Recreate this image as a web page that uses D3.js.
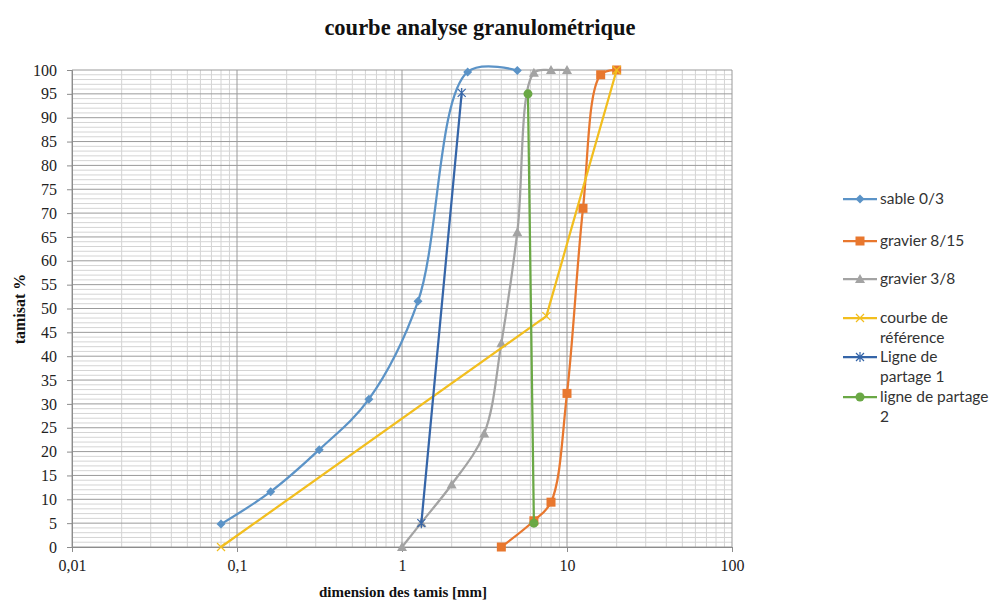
<!DOCTYPE html>
<html>
<head>
<meta charset="utf-8">
<script src="https://cdn.jsdelivr.net/npm/d3@7"></script>
<style>
  html, body { margin: 0; padding: 0; background: #fff; }
  svg { display: block; }
</style>
</head>
<body>
<svg id="chart" width="990" height="601"></svg>
<script>
// Sieve sizes (mm) and passing percentages for each curve
const sableX = [0.08, 0.16, 0.315, 0.63, 1.25, 2.5, 5];
const sableY = [4.8, 11.6, 20.4, 31, 51.5, 99.6, 99.9];

const gravier815X = [4, 6.3, 8, 10, 12.5, 16, 20];
const gravier815Y = [0, 5.5, 9.4, 32.2, 71, 99, 100];

const gravier38X = [1, 1.31, 2, 3.15, 4, 5, 6.3, 8, 10];
const gravier38Y = [0, 5.1, 13.1, 23.8, 42.7, 66, 99.4, 100, 100];

const referenceX = [0.08, 7.5, 20];
const referenceY = [0, 48.4, 100];

const partage1X = [1.31, 2.3];
const partage1Y = [5, 95.2];

const partage2X = [5.8, 6.3];
const partage2Y = [95, 5];

const xTickValues = [0.01, 0.1, 1, 10, 100];
const xTickLabels = ["0,01", "0,1", "1", "10", "100"];
const yTickValues = d3.range(0, 101, 5);

const seriesNames = ["sable 0/3", "gravier 8/15", "gravier 3/8", "courbe de référence", "Ligne de partage 1", "ligne de partage 2"];

const series = [
  { name: seriesNames[0], xs: sableX, ys: sableY, color: "#5b93c7", marker: "diamond", smooth: true },
  { name: seriesNames[1], xs: gravier815X, ys: gravier815Y, color: "#e8772e", marker: "square", smooth: true },
  { name: seriesNames[2], xs: gravier38X, ys: gravier38Y, color: "#a3a3a3", marker: "triangle", smooth: true },
  { name: seriesNames[3], xs: referenceX, ys: referenceY, color: "#f2be1e", marker: "cross", smooth: false },
  { name: seriesNames[4], xs: partage1X, ys: partage1Y, color: "#3565a8", marker: "star", smooth: false },
  { name: seriesNames[5], xs: partage2X, ys: partage2Y, color: "#6aa845", marker: "circle", smooth: false }
];

const svg = d3.select("#chart");
const plotLeft = 72, plotRight = 732, plotTop = 70, plotBottom = 547;

const x = d3.scaleLog().domain([0.01, 100]).range([plotLeft, plotRight]);
const y = d3.scaleLinear().domain([0, 100]).range([plotBottom, plotTop]);

// Grid: minor lines first, then major lines
const grid = svg.append("g");
const minorX = [];
for (let e = -2; e < 2; e++) for (let k = 2; k <= 9; k++) minorX.push(k * Math.pow(10, e));
grid.selectAll(".vminor").data(minorX).join("line")
  .attr("x1", d => x(d)).attr("x2", d => x(d))
  .attr("y1", plotTop).attr("y2", plotBottom)
  .attr("stroke", "#d4d4d4").attr("stroke-width", 1);
const minorY = d3.range(0, 101, 1).filter(d => d % 5 !== 0);
grid.selectAll(".hminor").data(minorY).join("line")
  .attr("x1", plotLeft).attr("x2", plotRight)
  .attr("y1", d => y(d)).attr("y2", d => y(d))
  .attr("stroke", "#d4d4d4").attr("stroke-width", 1);
grid.selectAll(".hmajor").data(yTickValues).join("line")
  .attr("x1", plotLeft).attr("x2", plotRight)
  .attr("y1", d => y(d)).attr("y2", d => y(d))
  .attr("stroke", "#9a9a9a").attr("stroke-width", 1);
grid.selectAll(".vmajor").data(xTickValues).join("line")
  .attr("x1", d => x(d)).attr("x2", d => x(d))
  .attr("y1", plotTop).attr("y2", plotBottom)
  .attr("stroke", "#9a9a9a").attr("stroke-width", 1);

// Axes
const xAxis = d3.axisBottom(x).tickValues(xTickValues)
  .tickFormat((d, i) => xTickLabels[i]).tickSize(5).tickPadding(8);
const yAxis = d3.axisLeft(y).tickValues(yTickValues).tickSize(5).tickPadding(10);

const gx = svg.append("g").attr("transform", `translate(0,${plotBottom})`).call(xAxis);
const gy = svg.append("g").attr("transform", `translate(${plotLeft},0)`).call(yAxis);
[gx, gy].forEach(g => {
  g.select(".domain").attr("stroke", "#8c8c8c");
  g.selectAll(".tick line").attr("stroke", "#8c8c8c");
  g.selectAll(".tick text")
    .attr("font-family", "'Liberation Serif', 'Times New Roman', serif")
    .attr("font-size", 16).attr("fill", "#222");
});

// Marker shapes
function drawMarker(g, type, color) {
  if (type === "diamond") {
    g.append("path").attr("d", "M0,-4.5L4.5,0L0,4.5L-4.5,0Z").attr("fill", color);
  } else if (type === "square") {
    g.append("rect").attr("x", -4.5).attr("y", -4.5).attr("width", 9).attr("height", 9).attr("fill", color);
  } else if (type === "triangle") {
    g.append("path").attr("d", "M0,-5L5,4L-5,4Z").attr("fill", color);
  } else if (type === "circle") {
    g.append("circle").attr("r", 4.5).attr("fill", color);
  } else if (type === "cross") {
    g.append("path").attr("d", "M-4,-4L4,4M-4,4L4,-4").attr("stroke", color).attr("stroke-width", 1.2).attr("fill", "none");
  } else if (type === "star") {
    g.append("path").attr("d", "M-4,-4L4,4M-4,4L4,-4M0,-5L0,5").attr("stroke", color).attr("stroke-width", 1.2).attr("fill", "none");
  }
}

const plot = svg.append("g");
series.forEach(s => {
  const pts = s.xs.map((v, i) => [v, s.ys[i]]);
  const line = d3.line().x(d => x(d[0])).y(d => y(d[1]))
    .curve(s.smooth ? d3.curveCatmullRom.alpha(0.5) : d3.curveLinear);
  const g = plot.append("g");
  g.append("path").datum(pts).attr("d", line)
    .attr("fill", "none").attr("stroke", s.color).attr("stroke-width", 2.25)
    .attr("stroke-linejoin", "round");
  pts.forEach(p => {
    const m = g.append("g").attr("transform", `translate(${x(p[0])},${y(p[1])})`);
    drawMarker(m, s.marker, s.color);
  });
});

// Title and axis titles
svg.append("text").attr("x", 480).attr("y", 35).attr("text-anchor", "middle")
  .attr("font-family", "'Liberation Serif', 'Times New Roman', serif")
  .attr("font-weight", "bold").attr("font-size", 22.5).attr("fill", "#111")
  .text("courbe analyse granulométrique");

svg.append("text").attr("x", 403).attr("y", 597).attr("text-anchor", "middle")
  .attr("font-family", "'Liberation Serif', 'Times New Roman', serif")
  .attr("font-weight", "bold").attr("font-size", 15).attr("fill", "#111")
  .text("dimension des tamis [mm]");

svg.append("text").attr("transform", "translate(25,309) rotate(-90)").attr("text-anchor", "middle")
  .attr("font-family", "'Liberation Serif', 'Times New Roman', serif")
  .attr("font-weight", "bold").attr("font-size", 16).attr("fill", "#111")
  .text("tamisat %");

// Legend
const legendRows = [
  { lines: ["sable 0/3"], y: 199 },
  { lines: ["gravier 8/15"], y: 241 },
  { lines: ["gravier 3/8"], y: 279 },
  { lines: ["courbe de", "référence"], y: 318 },
  { lines: ["Ligne de", "partage 1"], y: 357 },
  { lines: ["ligne de partage", "2"], y: 397 }
];
const legend = svg.append("g");
series.forEach((s, i) => {
  const r = legendRows[i];
  const g = legend.append("g");
  g.append("line").attr("x1", 843).attr("x2", 877).attr("y1", r.y).attr("y2", r.y)
    .attr("stroke", s.color).attr("stroke-width", 2.25);
  const m = g.append("g").attr("transform", `translate(860,${r.y})`);
  drawMarker(m, s.marker, s.color);
  const t = g.append("text").attr("x", 880).attr("y", r.y + 5)
    .attr("font-family", "Lato, 'Open Sans', sans-serif")
    .attr("font-size", 15.5).attr("fill", "#333");
  r.lines.forEach((ln, j) => {
    t.append("tspan").attr("x", 880).attr("dy", j === 0 ? 0 : 20).text(ln);
  });
});
</script>
</body>
</html>
